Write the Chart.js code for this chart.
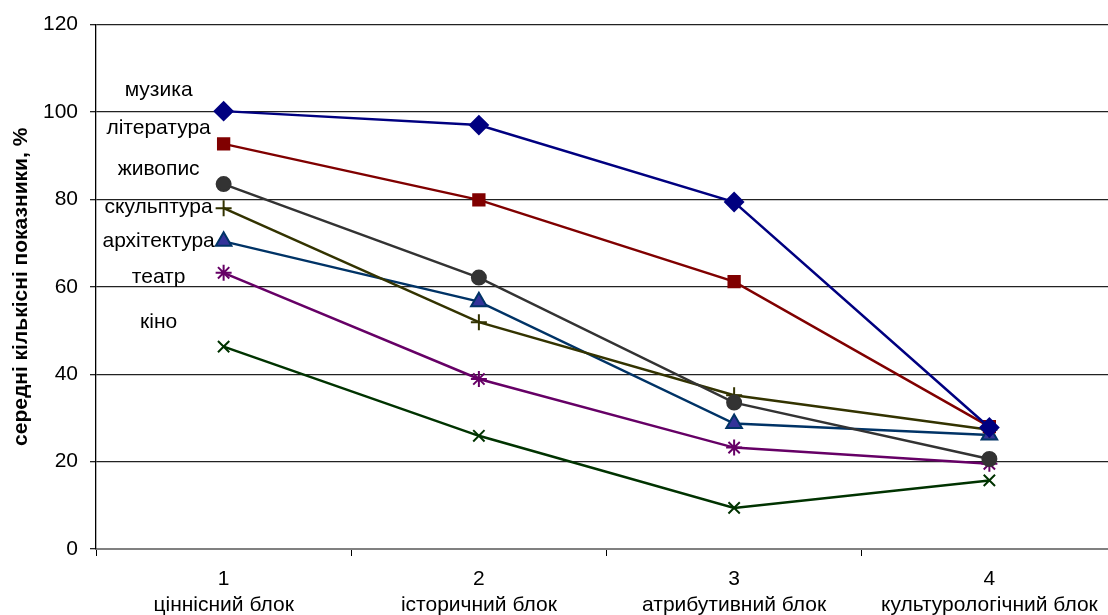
<!DOCTYPE html>
<html>
<head>
<meta charset="utf-8">
<script src="https://cdn.jsdelivr.net/npm/chart.js@4.4.1/dist/chart.umd.min.js"></script>
<style>
  html, body { margin: 0; padding: 0; background: #fff; overflow: hidden; }
</style>
</head>
<body>
<!-- canvas is a little wider than the window: the plot area runs past the right edge -->
<canvas id="myChart" width="1120" height="615"></canvas>
<script>
// categories (two-line labels)
var blocks = [["1", "ціннісний блок"], ["2", "історичний блок"], ["3", "атрибутивний блок"], ["4", "культурологічний блок"]];

// series values, %
var muzyka      = [100.2, 97.0, 79.4, 27.8];
var literatura  = [92.7, 79.9, 61.2, 28.0];
var zhyvopys    = [83.5, 62.1, 33.5, 20.6];
var skulptura   = [78.0, 51.9, 35.2, 27.3];
var arkhitektura = [70.4, 56.6, 28.7, 26.1];
var teatr       = [63.2, 38.9, 23.2, 19.5];
var kino        = [46.3, 25.9, 9.4, 15.7];

var yTicks = [0, 20, 40, 60, 80, 100, 120];

// series names shown as text near the first point
var names = ["музика", "література", "живопис", "скульптура", "архітектура", "театр", "кіно"];
var nameY = [104.9, 96.2, 86.9, 78.3, 70.5, 62.3, 51.8];

var FONT = "'Liberation Sans', Arial, sans-serif";
var FS = 21;

function ds(label, data, color, style, radius, fill) {
  return {
    label: label,
    data: data,
    borderColor: color,
    backgroundColor: fill || color,
    pointBorderColor: color,
    pointBackgroundColor: fill || color,
    pointStyle: style,
    pointRadius: radius,
    pointHoverRadius: radius,
    pointBorderWidth: 2,
    borderWidth: 2.5,
    tension: 0,
    fill: false
  };
}

// text labels drawn next to the first category
var seriesNames = {
  id: 'seriesNames',
  afterDatasetsDraw: function(chart) {
    var ctx = chart.ctx;
    var x0 = chart.scales.x.getPixelForValue(0) - 65;
    ctx.save();
    ctx.font = FS + "px " + FONT;
    ctx.fillStyle = "#000";
    ctx.textAlign = "center";
    ctx.textBaseline = "middle";
    for (var i = 0; i < names.length; i++) {
      ctx.fillText(names[i], x0, chart.scales.y.getPixelForValue(nameY[i]));
    }
    ctx.restore();
  }
};

var ctx = document.getElementById('myChart').getContext('2d');
var chart = new Chart(ctx, {
  type: 'line',
  data: {
    labels: blocks,
    datasets: [
      ds(names[0], muzyka, '#000080', 'rectRot', 9),
      ds(names[1], literatura, '#800000', 'rect', 8),
      ds(names[2], zhyvopys, '#333333', 'circle', 7),
      ds(names[3], skulptura, '#333300', 'cross', 8),
      ds(names[4], arkhitektura, '#003366', 'triangle', 9, '#333399'),
      ds(names[5], teatr, '#660066', 'star', 8),
      ds(names[6], kino, '#003300', 'crossRot', 8)
    ]
  },
  options: {
    responsive: false,
    animation: false,
    layout: { autoPadding: false, padding: { top: 14, left: 0, right: 3, bottom: 0 } },
    plugins: {
      legend: { display: false },
      tooltip: { enabled: false }
    },
    scales: {
      x: {
        offset: true,
        afterFit: function(axis) {
          axis.height = 66;
          axis.paddingLeft = 0;
          axis.paddingRight = 0;
        },
        grid: {
          offset: true,
          drawOnChartArea: false,
          drawTicks: true,
          tickLength: 7,
          color: '#000'
        },
        border: { color: '#808080', width: 2 },
        ticks: {
          color: '#000',
          font: { family: FONT, size: FS },
          maxRotation: 0,
          padding: 11
        }
      },
      y: {
        min: 0,
        max: 120,
        afterFit: function(axis) { axis.width = 96; },
        afterBuildTicks: function(axis) {
          axis.ticks = yTicks.map(function(v) { return { value: v }; });
        },
        grid: {
          color: '#222',
          lineWidth: 1.3,
          tickLength: 6
        },
        border: { color: '#000', width: 1.3 },
        ticks: {
          color: '#000',
          font: { family: FONT, size: FS },
          padding: 12
        },
        title: {
          display: true,
          text: 'середні кількісні показники, %',
          color: '#000',
          font: { family: FONT, size: FS, weight: 'bold' },
          padding: { top: 9, bottom: 0 }
        }
      }
    }
  },
  plugins: [seriesNames]
});
</script>
</body>
</html>
